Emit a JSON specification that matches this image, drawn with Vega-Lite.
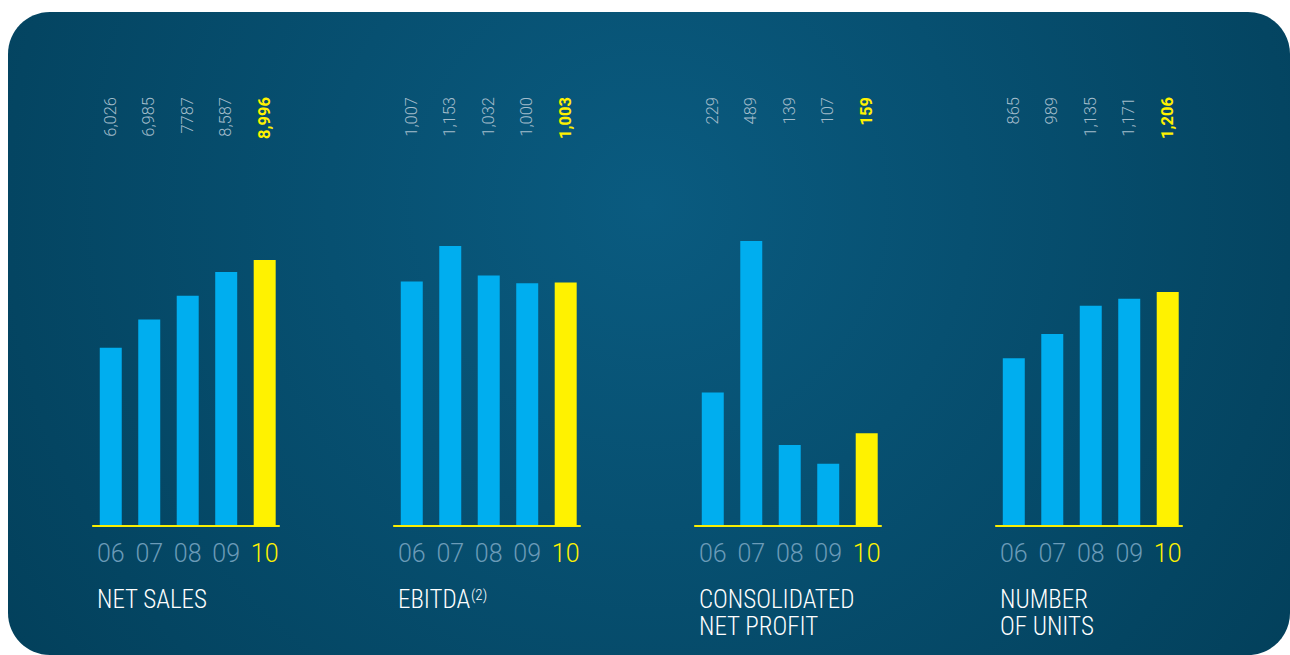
{
  "$schema": "https://vega.github.io/schema/vega-lite/v6.json",
  "width": 1290,
  "height": 655,
  "autosize": {"type": "fit", "contains": "padding"},
  "padding": {"left": 8, "top": 12, "right": 0, "bottom": 0},
  "background": "white",
  "config": {"view": {"stroke": null}},
  "datasets": {
    "bars": [
      {"panel": "sales", "year": "06", "value": 6026, "label": "6,026"},
      {"panel": "sales", "year": "07", "value": 6985, "label": "6,985"},
      {"panel": "sales", "year": "08", "value": 7787, "label": "7787"},
      {"panel": "sales", "year": "09", "value": 8587, "label": "8,587"},
      {"panel": "sales", "year": "10", "value": 8996, "label": "8,996"},
      {"panel": "ebitda", "year": "06", "value": 1007, "label": "1,007"},
      {"panel": "ebitda", "year": "07", "value": 1153, "label": "1,153"},
      {"panel": "ebitda", "year": "08", "value": 1032, "label": "1,032"},
      {"panel": "ebitda", "year": "09", "value": 1000, "label": "1,000"},
      {"panel": "ebitda", "year": "10", "value": 1003, "label": "1,003"},
      {"panel": "profit", "year": "06", "value": 229, "label": "229"},
      {"panel": "profit", "year": "07", "value": 489, "label": "489"},
      {"panel": "profit", "year": "08", "value": 139, "label": "139"},
      {"panel": "profit", "year": "09", "value": 107, "label": "107"},
      {"panel": "profit", "year": "10", "value": 159, "label": "159"},
      {"panel": "units", "year": "06", "value": 865, "label": "865"},
      {"panel": "units", "year": "07", "value": 989, "label": "989"},
      {"panel": "units", "year": "08", "value": 1135, "label": "1,135"},
      {"panel": "units", "year": "09", "value": 1171, "label": "1,171"},
      {"panel": "units", "year": "10", "value": 1206, "label": "1,206"}
    ],
    "panels": [
      {"panel": "sales", "title": "NET SALES"},
      {"panel": "ebitda", "title": "EBITDA", "sup": "(2)"},
      {"panel": "profit", "title": "CONSOLIDATED\nNET PROFIT"},
      {"panel": "units", "title": "NUMBER\nOF UNITS"}
    ]
  },
  "data": {"name": "bars"},
  "layer": [
    {
      "data": {"values": [{"bg": 1}]},
      "mark": {
        "type": "rect",
        "cornerRadius": 42,
        "fill": {
          "gradient": "radial",
          "x1": 0.5, "y1": 0.4, "r1": 0,
          "x2": 0.5, "y2": 0.4, "r2": 0.75,
          "stops": [
            {"offset": 0, "color": "#0a5b80"},
            {"offset": 1, "color": "#013a53"}
          ]
        }
      },
      "encoding": {}
    },
    {
      "transform": [{"filter": "datum.panel == 'sales'"}],
      "layer": [
        {
          "mark": {"type": "bar"},
          "encoding": {
            "x": {"field": "panel", "type": "nominal", "axis": null, "scale": {"domain": ["sales", "ebitda", "profit", "units"], "paddingInner": 0.379, "paddingOuter": 0.319, "align": 0.44}},
            "xOffset": {"field": "year", "type": "nominal", "scale": {"domain": ["06", "07", "08", "09", "10"], "paddingInner": 0.4286, "paddingOuter": 0.143, "align": 0.66}},
            "y": {"field": "value", "type": "quantitative", "axis": null, "scale": {"domain": [-4362.7, 17383], "nice": false, "zero": false}},
            "color": {"condition": {"test": "datum.year == '10'", "value": "#fff200"}, "value": "#00aeef"}
          }
        },
        {
          "transform": [{"filter": "datum.year != '10'"}],
          "mark": {"type": "text", "angle": 270, "align": "right", "baseline": "middle", "font": "Roboto", "fontWeight": 300, "fontSize": 16.5, "color": "#a3bccb"},
          "encoding": {
            "x": {"field": "panel", "type": "nominal"},
            "xOffset": {"field": "year", "type": "nominal"},
            "y": {"datum": 14508.6},
            "text": {"field": "label"}
          }
        },
        {
          "transform": [{"filter": "datum.year == '10'"}],
          "mark": {"type": "text", "angle": 270, "align": "right", "baseline": "middle", "font": "Roboto", "fontWeight": "bold", "fontSize": 16.5, "color": "#fff200"},
          "encoding": {
            "x": {"field": "panel", "type": "nominal"},
            "xOffset": {"field": "year", "type": "nominal"},
            "y": {"datum": 14508.6},
            "text": {"field": "label"}
          }
        },
        {
          "mark": {"type": "text", "align": "center", "baseline": "middle", "font": "Roboto", "fontWeight": 300, "fontSize": 25},
          "encoding": {
            "x": {"field": "panel", "type": "nominal"},
            "xOffset": {"field": "year", "type": "nominal"},
            "y": {"datum": -947},
            "text": {"field": "year"},
            "color": {"condition": {"test": "datum.year == '10'", "value": "#fff200"}, "value": "#6b9bb8"}
          }
        },
        {
          "mark": {"type": "tick", "orient": "horizontal", "size": 187, "thickness": 1.5, "color": "#fff200"},
          "encoding": {
            "x": {"field": "panel", "type": "nominal"},
            "y": {"datum": 0}
          }
        },
        {
          "data": {"name": "panels"},
          "transform": [{"filter": "datum.panel == 'sales'"}],
          "mark": {"type": "text", "align": "left", "baseline": "alphabetic", "dx": -89, "lineBreak": "\n", "lineHeight": 27, "font": "Liberation Sans Narrow, Roboto Condensed, Roboto", "fontWeight": 300, "fontSize": 25, "color": "#ffffff"},
          "encoding": {
            "x": {"field": "panel", "type": "nominal"},
            "y": {"datum": -2773.2},
            "text": {"field": "title"}
          }
        }
      ]
    },
    {
      "transform": [{"filter": "datum.panel == 'ebitda'"}],
      "layer": [
        {
          "mark": {"type": "bar"},
          "encoding": {
            "x": {"field": "panel", "type": "nominal", "axis": null, "scale": {"domain": ["sales", "ebitda", "profit", "units"], "paddingInner": 0.379, "paddingOuter": 0.319, "align": 0.44}},
            "xOffset": {"field": "year", "type": "nominal", "scale": {"domain": ["06", "07", "08", "09", "10"], "paddingInner": 0.4286, "paddingOuter": 0.143, "align": 0.66}},
            "y": {"field": "value", "type": "quantitative", "axis": null, "scale": {"domain": [-531.2, 2116.6], "nice": false, "zero": false}},
            "color": {"condition": {"test": "datum.year == '10'", "value": "#fff200"}, "value": "#00aeef"}
          }
        },
        {
          "transform": [{"filter": "datum.year != '10'"}],
          "mark": {"type": "text", "angle": 270, "align": "right", "baseline": "middle", "font": "Roboto", "fontWeight": 300, "fontSize": 16.5, "color": "#a3bccb"},
          "encoding": {
            "x": {"field": "panel", "type": "nominal"},
            "xOffset": {"field": "year", "type": "nominal"},
            "y": {"datum": 1766.6},
            "text": {"field": "label"}
          }
        },
        {
          "transform": [{"filter": "datum.year == '10'"}],
          "mark": {"type": "text", "angle": 270, "align": "right", "baseline": "middle", "font": "Roboto", "fontWeight": "bold", "fontSize": 16.5, "color": "#fff200"},
          "encoding": {
            "x": {"field": "panel", "type": "nominal"},
            "xOffset": {"field": "year", "type": "nominal"},
            "y": {"datum": 1766.6},
            "text": {"field": "label"}
          }
        },
        {
          "mark": {"type": "text", "align": "center", "baseline": "middle", "font": "Roboto", "fontWeight": 300, "fontSize": 25},
          "encoding": {
            "x": {"field": "panel", "type": "nominal"},
            "xOffset": {"field": "year", "type": "nominal"},
            "y": {"datum": -115.3},
            "text": {"field": "year"},
            "color": {"condition": {"test": "datum.year == '10'", "value": "#fff200"}, "value": "#6b9bb8"}
          }
        },
        {
          "mark": {"type": "tick", "orient": "horizontal", "size": 187, "thickness": 1.5, "color": "#fff200"},
          "encoding": {
            "x": {"field": "panel", "type": "nominal"},
            "y": {"datum": 0}
          }
        },
        {
          "data": {"name": "panels"},
          "transform": [{"filter": "datum.panel == 'ebitda'"}],
          "mark": {"type": "text", "align": "left", "baseline": "alphabetic", "dx": -89, "lineBreak": "\n", "lineHeight": 27, "font": "Liberation Sans Narrow, Roboto Condensed, Roboto", "fontWeight": 300, "fontSize": 25, "color": "#ffffff"},
          "encoding": {
            "x": {"field": "panel", "type": "nominal"},
            "y": {"datum": -337.7},
            "text": {"field": "title"}
          }
        },
        {
          "data": {"name": "panels"},
          "transform": [{"filter": "datum.panel == 'ebitda'"}],
          "mark": {"type": "text", "align": "left", "baseline": "alphabetic", "dx": -16, "font": "Liberation Sans Narrow, Roboto Condensed, Roboto", "fontWeight": 300, "fontSize": 15, "color": "#ffffff"},
          "encoding": {
            "x": {"field": "panel", "type": "nominal"},
            "y": {"datum": -304.7},
            "text": {"field": "sup"}
          }
        }
      ]
    },
    {
      "transform": [{"filter": "datum.panel == 'profit'"}],
      "layer": [
        {
          "mark": {"type": "bar"},
          "encoding": {
            "x": {"field": "panel", "type": "nominal", "axis": null, "scale": {"domain": ["sales", "ebitda", "profit", "units"], "paddingInner": 0.379, "paddingOuter": 0.319, "align": 0.44}},
            "xOffset": {"field": "year", "type": "nominal", "scale": {"domain": ["06", "07", "08", "09", "10"], "paddingInner": 0.4286, "paddingOuter": 0.143, "align": 0.66}},
            "y": {"field": "value", "type": "quantitative", "axis": null, "scale": {"domain": [-221.3, 881.9], "nice": false, "zero": false}},
            "color": {"condition": {"test": "datum.year == '10'", "value": "#fff200"}, "value": "#00aeef"}
          }
        },
        {
          "transform": [{"filter": "datum.year != '10'"}],
          "mark": {"type": "text", "angle": 270, "align": "right", "baseline": "middle", "font": "Roboto", "fontWeight": 300, "fontSize": 16.5, "color": "#a3bccb"},
          "encoding": {
            "x": {"field": "panel", "type": "nominal"},
            "xOffset": {"field": "year", "type": "nominal"},
            "y": {"datum": 736.1},
            "text": {"field": "label"}
          }
        },
        {
          "transform": [{"filter": "datum.year == '10'"}],
          "mark": {"type": "text", "angle": 270, "align": "right", "baseline": "middle", "font": "Roboto", "fontWeight": "bold", "fontSize": 16.5, "color": "#fff200"},
          "encoding": {
            "x": {"field": "panel", "type": "nominal"},
            "xOffset": {"field": "year", "type": "nominal"},
            "y": {"datum": 736.1},
            "text": {"field": "label"}
          }
        },
        {
          "mark": {"type": "text", "align": "center", "baseline": "middle", "font": "Roboto", "fontWeight": 300, "fontSize": 25},
          "encoding": {
            "x": {"field": "panel", "type": "nominal"},
            "xOffset": {"field": "year", "type": "nominal"},
            "y": {"datum": -48},
            "text": {"field": "year"},
            "color": {"condition": {"test": "datum.year == '10'", "value": "#fff200"}, "value": "#6b9bb8"}
          }
        },
        {
          "mark": {"type": "tick", "orient": "horizontal", "size": 187, "thickness": 1.5, "color": "#fff200"},
          "encoding": {
            "x": {"field": "panel", "type": "nominal"},
            "y": {"datum": 0}
          }
        },
        {
          "data": {"name": "panels"},
          "transform": [{"filter": "datum.panel == 'profit'"}],
          "mark": {"type": "text", "align": "left", "baseline": "alphabetic", "dx": -89, "lineBreak": "\n", "lineHeight": 27, "font": "Liberation Sans Narrow, Roboto Condensed, Roboto", "fontWeight": 300, "fontSize": 25, "color": "#ffffff"},
          "encoding": {
            "x": {"field": "panel", "type": "nominal"},
            "y": {"datum": -140.7},
            "text": {"field": "title"}
          }
        }
      ]
    },
    {
      "transform": [{"filter": "datum.panel == 'units'"}],
      "layer": [
        {
          "mark": {"type": "bar"},
          "encoding": {
            "x": {"field": "panel", "type": "nominal", "axis": null, "scale": {"domain": ["sales", "ebitda", "profit", "units"], "paddingInner": 0.379, "paddingOuter": 0.319, "align": 0.44}},
            "xOffset": {"field": "year", "type": "nominal", "scale": {"domain": ["06", "07", "08", "09", "10"], "paddingInner": 0.4286, "paddingOuter": 0.143, "align": 0.66}},
            "y": {"field": "value", "type": "quantitative", "axis": null, "scale": {"domain": [-664.8, 2649.0], "nice": false, "zero": false}},
            "color": {"condition": {"test": "datum.year == '10'", "value": "#fff200"}, "value": "#00aeef"}
          }
        },
        {
          "transform": [{"filter": "datum.year != '10'"}],
          "mark": {"type": "text", "angle": 270, "align": "right", "baseline": "middle", "font": "Roboto", "fontWeight": 300, "fontSize": 16.5, "color": "#a3bccb"},
          "encoding": {
            "x": {"field": "panel", "type": "nominal"},
            "xOffset": {"field": "year", "type": "nominal"},
            "y": {"datum": 2211.0},
            "text": {"field": "label"}
          }
        },
        {
          "transform": [{"filter": "datum.year == '10'"}],
          "mark": {"type": "text", "angle": 270, "align": "right", "baseline": "middle", "font": "Roboto", "fontWeight": "bold", "fontSize": 16.5, "color": "#fff200"},
          "encoding": {
            "x": {"field": "panel", "type": "nominal"},
            "xOffset": {"field": "year", "type": "nominal"},
            "y": {"datum": 2211.0},
            "text": {"field": "label"}
          }
        },
        {
          "mark": {"type": "text", "align": "center", "baseline": "middle", "font": "Roboto", "fontWeight": 300, "fontSize": 25},
          "encoding": {
            "x": {"field": "panel", "type": "nominal"},
            "xOffset": {"field": "year", "type": "nominal"},
            "y": {"datum": -144.3},
            "text": {"field": "year"},
            "color": {"condition": {"test": "datum.year == '10'", "value": "#fff200"}, "value": "#6b9bb8"}
          }
        },
        {
          "mark": {"type": "tick", "orient": "horizontal", "size": 187, "thickness": 1.5, "color": "#fff200"},
          "encoding": {
            "x": {"field": "panel", "type": "nominal"},
            "y": {"datum": 0}
          }
        },
        {
          "data": {"name": "panels"},
          "transform": [{"filter": "datum.panel == 'units'"}],
          "mark": {"type": "text", "align": "left", "baseline": "alphabetic", "dx": -89, "lineBreak": "\n", "lineHeight": 27, "font": "Liberation Sans Narrow, Roboto Condensed, Roboto", "fontWeight": 300, "fontSize": 25, "color": "#ffffff"},
          "encoding": {
            "x": {"field": "panel", "type": "nominal"},
            "y": {"datum": -422.6},
            "text": {"field": "title"}
          }
        }
      ]
    }
  ],
  "resolve": {"scale": {"y": "independent"}}
}
